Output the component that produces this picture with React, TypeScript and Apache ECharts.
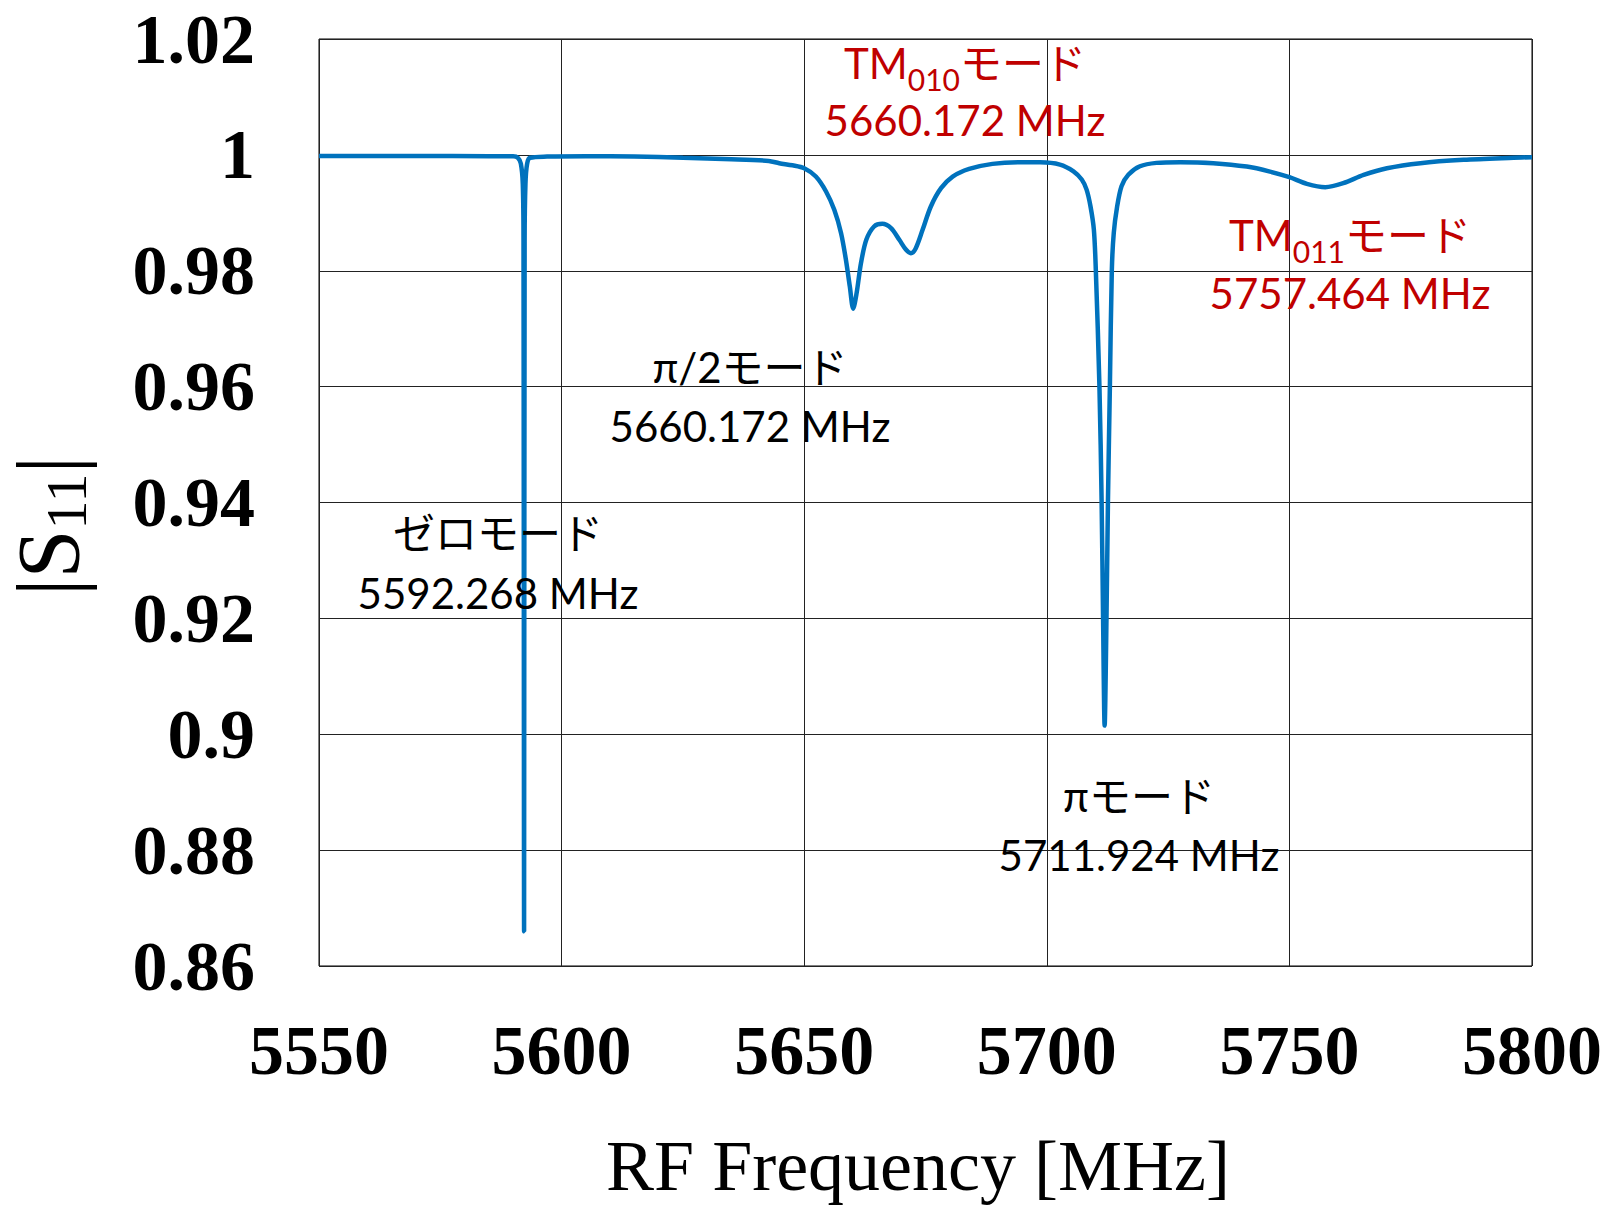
import React, { useEffect, useRef } from 'react';
import * as echarts from 'echarts';

// ---- data ----
const freqMHz: number[] = [
  5550, 5570, 5585, 5590, 5591.0, 5591.6, 5592.0, 5592.15, 5592.268, 5592.38, 5592.55, 5592.9, 5593.5,
  5597, 5605, 5615, 5625, 5635, 5642.7, 5644.85, 5647.6, 5650.0, 5652.4, 5654.5, 5656.2, 5657.6,
  5658.6, 5659.4, 5660.1, 5660.8, 5661.7, 5662.8, 5664.4, 5666.1, 5667.9, 5669.6, 5671.0, 5672.0,
  5673.0, 5674.4, 5676.1, 5678.2, 5680.6, 5684.0, 5688.8, 5694.3, 5698.6, 5702.7, 5705.5, 5707.2,
  5708.2, 5709.0, 5709.7, 5710.1, 5710.85, 5711.3, 5711.6, 5711.92, 5712.3, 5712.6, 5713.0, 5713.4,
  5713.8, 5714.5, 5715.4, 5716.8, 5719.2, 5722.6, 5727.5, 5734.3, 5741.2, 5746.0, 5750.0, 5753.6,
  5757.4, 5761.1, 5765.3, 5770.1, 5777.0, 5785.9, 5796.2, 5800,
];
const s11Mag: number[] = [
  0.9998, 0.9998, 0.99978, 0.99975, 0.9995, 0.9985, 0.995, 0.985, 0.866, 0.985, 0.995, 0.9985, 0.9995,
  0.9997, 0.99978, 0.99972, 0.9995, 0.99925, 0.99895, 0.99856, 0.9982, 0.9977, 0.99626, 0.99368, 0.99051, 0.98649,
  0.98189, 0.97729, 0.97345, 0.97614, 0.98131, 0.98534, 0.98764, 0.9881, 0.98735, 0.98534, 0.98361, 0.98304,
  0.9839, 0.98706, 0.99109, 0.99425, 0.99626, 0.99758, 0.99845, 0.99873, 0.99872, 0.99833, 0.99717, 0.99574,
  0.994, 0.99113, 0.9871, 0.9802, 0.96, 0.94, 0.92, 0.9015, 0.92, 0.94, 0.96, 0.98,
  0.9865, 0.9911, 0.9946, 0.99657, 0.99803, 0.99862, 0.99874, 0.99857, 0.99798, 0.99712, 0.99615, 0.995,
  0.99442, 0.99511, 0.99655, 0.9977, 0.99857, 0.99914, 0.9995, 0.9996,
];

const xTicks: number[] = [5550, 5600, 5650, 5700, 5750, 5800];
const yTicks: number[] = [0.86, 0.88, 0.9, 0.92, 0.94, 0.96, 0.98, 1, 1.02];

const xAxisTitle = 'RF Frequency [MHz]';
const yAxisTitle = '|S{sub|11}|';

const modeTitles: string[] = ['TM{sub|010}モード', 'π/2モード', 'ゼロモード', 'πモード', 'TM{sub|011}モード'];
const modeFreqs: string[] = ['5660.172 MHz', '5660.172 MHz', '5592.268 MHz', '5711.924 MHz', '5757.464 MHz'];

// ---- layout / style ----
const W = 1608;
const H = 1206;
const GRID = { left: 319, top: 39, width: 1213, height: 927 };
const RED = '#C00000';
const BLUE = '#0072BD';
const labelLayout = [
  { x: 965, y1: 63, y2: 120, color: RED },
  { x: 750, y1: 367, y2: 426, color: '#000' },
  { x: 498, y1: 533, y2: 593, color: '#000' },
  { x: 1139, y1: 796, y2: 855, color: '#000' },
  { x: 1350, y1: 235, y2: 293, color: RED },
];
const ANN_FONT = "Lato, 'Noto Sans CJK JP', sans-serif";
const SERIF = "'Liberation Serif', 'Times New Roman', serif";

export default function App() {
  const ref = useRef<HTMLDivElement>(null);

  useEffect(() => {
    if (!ref.current) return;
    const chart = echarts.init(ref.current, null, { renderer: 'svg' });

    const data = freqMHz.map((f, i) => [f, s11Mag[i]]);

    const graphics: any[] = [];
    modeTitles.forEach((t, i) => {
      const L = labelLayout[i];
      graphics.push({
        type: 'text',
        x: L.x,
        y: L.y1,
        z: 100,
        style: {
          text: t,
          fill: L.color,
          fontSize: 42,
          fontFamily: ANN_FONT,
          align: 'center',
          verticalAlign: 'middle',
          textAlign: 'center',
          textVerticalAlign: 'middle',
          rich: {
            sub: { fontSize: 30, fontFamily: ANN_FONT, fill: L.color, padding: [32, 0, 0, 0] },
          },
        },
      });
      graphics.push({
        type: 'text',
        x: L.x,
        y: L.y2,
        z: 100,
        style: {
          text: modeFreqs[i],
          fill: L.color,
          fontSize: 42,
          fontFamily: ANN_FONT,
          align: 'center',
          verticalAlign: 'middle',
          textAlign: 'center',
          textVerticalAlign: 'middle',
        },
      });
    });
    graphics.push({
      type: 'text',
      x: 918,
      y: 1166,
      style: {
        text: xAxisTitle,
        fill: '#000',
        fontSize: 72,
        fontFamily: SERIF,
        align: 'center',
        verticalAlign: 'middle',
        textAlign: 'center',
        textVerticalAlign: 'middle',
      },
    });
    graphics.push({
      type: 'text',
      x: 48,
      y: 526,
      rotation: Math.PI / 2,
      style: {
        text: yAxisTitle,
        fill: '#000',
        fontSize: 88,
        fontFamily: SERIF,
        align: 'center',
        verticalAlign: 'middle',
        textAlign: 'center',
        textVerticalAlign: 'middle',
        rich: {
          sub: { fontSize: 58, fontFamily: SERIF, fill: '#000', padding: [36, 0, 0, 0] },
        },
      },
    });

    const fmt = (v: number) => String(parseFloat(Number(v).toFixed(2)));

    chart.setOption({
      animation: false,
      backgroundColor: '#fff',
      grid: {
        left: GRID.left,
        top: GRID.top,
        width: GRID.width,
        height: GRID.height,
        show: true,
        borderColor: '#000',
        borderWidth: 1,
        backgroundColor: 'transparent',
      },
      xAxis: {
        type: 'value',
        min: xTicks[0],
        max: xTicks[xTicks.length - 1],
        interval: 50,
        axisLine: { show: false },
        axisTick: { show: false },
        splitLine: { show: true, lineStyle: { color: '#222', width: 1 } },
        axisLabel: {
          fontFamily: SERIF,
          fontWeight: 'bold',
          fontSize: 70,
          color: '#000',
          margin: 49,
          formatter: (v: number) => String(v),
        },
      },
      yAxis: {
        type: 'value',
        min: yTicks[0],
        max: yTicks[yTicks.length - 1],
        interval: 0.02,
        axisLine: { show: false },
        axisTick: { show: false },
        splitLine: { show: true, lineStyle: { color: '#222', width: 1 } },
        axisLabel: {
          fontFamily: SERIF,
          fontWeight: 'bold',
          fontSize: 70,
          color: '#000',
          margin: 64,
          formatter: fmt,
        },
      },
      series: [
        {
          type: 'line',
          data,
          showSymbol: false,
          symbol: 'none',
          smooth: 0.3,
          lineStyle: { color: BLUE, width: 4.5 },
          itemStyle: { color: BLUE },
          clip: true,
          z: 5,
        },
      ],
      graphic: { elements: graphics },
    });

    return () => chart.dispose();
  }, []);

  return (
    <div
      ref={ref}
      style={{ position: 'absolute', left: 0, top: 0, width: W, height: H, background: '#fff' }}
    />
  );
}
